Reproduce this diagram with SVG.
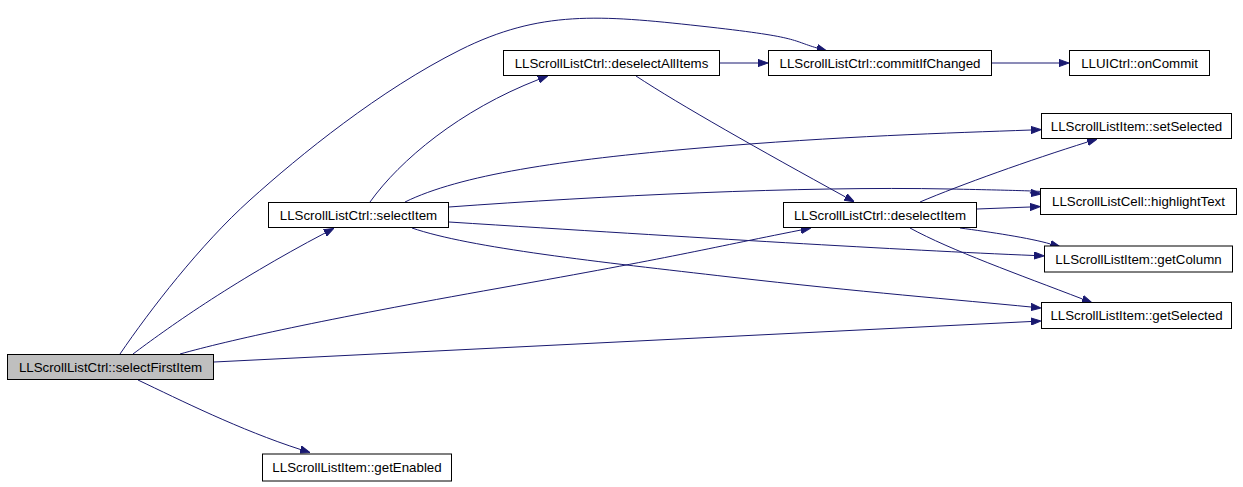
<svg xmlns="http://www.w3.org/2000/svg" width="1243" height="487" viewBox="0 0 1243 487">
<defs>
<style>
.node rect{fill:#ffffff;stroke:#000000;stroke-width:1}
.node.root rect{fill:#bfbfbf}
.node text{font-family:"Liberation Sans",Arial,Helvetica,sans-serif;font-size:13.3px;fill:#000000;text-anchor:middle}
.edge{fill:none;stroke:#191970;stroke-width:1;marker-end:url(#arrow)}
</style>
<marker id="arrow" viewBox="0 -4 10 8" refX="0" refY="0" markerWidth="10" markerHeight="8" markerUnits="userSpaceOnUse" orient="auto">
<path d="M0,-3.6 L10,0 L0,3.6 Z" fill="#191970" stroke="#191970" stroke-width="1"/>
</marker>
</defs>
<rect width="1243" height="487" fill="#ffffff"/>
<g id="edges">
<path class="edge" d="M120,354 C150,310 200,245 250,200 S380,90 460,50 S600,15 700,26 S790,40 817,48"/>
<path class="edge" d="M133,354 C165,330 230,283 325,233"/>
<path class="edge" d="M180,354 C230,340 320,320 500,288 S700,250 801,230"/>
<path class="edge" d="M214,362 L1031,321.5"/>
<path class="edge" d="M138,380 C180,400 240,430 300.5,449.5"/>
<path class="edge" d="M370,202 C400,160 460,110 538.5,79.5"/>
<path class="edge" d="M405,202 C460,175 560,160 700,148 S950,133 1031,130"/>
<path class="edge" d="M449,207 C600,196 800,186 950,189 S1020,192 1031,193"/>
<path class="edge" d="M449,222 C700,238 900,250 1034,255.5"/>
<path class="edge" d="M412,228 C470,248 600,262 730,277 S960,300 1031,307"/>
<path class="edge" d="M720,63 L758,63"/>
<path class="edge" d="M636,76 C680,105 760,150 845.5,197"/>
<path class="edge" d="M992,63 L1059,63"/>
<path class="edge" d="M920,202 C960,185 1030,160 1087.5,142"/>
<path class="edge" d="M977,209 L1030,207"/>
<path class="edge" d="M960,228 C990,232 1030,238 1050.5,244"/>
<path class="edge" d="M910,228 C950,250 1020,275 1082.5,299"/>
</g>
<g id="selectFirstItem" class="node root"><rect x="7.5" y="354.5" width="206" height="25"/><text x="110.5" y="371.5">LLScrollListCtrl::selectFirstItem</text></g>
<g id="selectItem" class="node"><rect x="268.5" y="202.5" width="180" height="25"/><text x="358.5" y="219.5">LLScrollListCtrl::selectItem</text></g>
<g id="deselectAllItems" class="node"><rect x="503.5" y="50.5" width="216" height="25"/><text x="611.5" y="67.5">LLScrollListCtrl::deselectAllItems</text></g>
<g id="commitIfChanged" class="node"><rect x="768.5" y="50.5" width="223" height="25"/><text x="880" y="67.5">LLScrollListCtrl::commitIfChanged</text></g>
<g id="onCommit" class="node"><rect x="1069.5" y="50.5" width="140" height="25"/><text x="1139.5" y="67.5">LLUICtrl::onCommit</text></g>
<g id="deselectItem" class="node"><rect x="783.5" y="202.5" width="193" height="25"/><text x="880" y="219.5">LLScrollListCtrl::deselectItem</text></g>
<g id="setSelected" class="node"><rect x="1041.5" y="113.5" width="190" height="25"/><text x="1136.5" y="130.5">LLScrollListItem::setSelected</text></g>
<g id="highlightText" class="node"><rect x="1040.5" y="188.5" width="196" height="26"/><text x="1138.5" y="206">LLScrollListCell::highlightText</text></g>
<g id="getColumn" class="node"><rect x="1044.5" y="246" width="188" height="26"/><text x="1138.5" y="263.5">LLScrollListItem::getColumn</text></g>
<g id="getSelected" class="node"><rect x="1041.5" y="302.5" width="190" height="26"/><text x="1136.5" y="320">LLScrollListItem::getSelected</text></g>
<g id="getEnabled" class="node"><rect x="262.5" y="454" width="189" height="27"/><text x="357" y="472">LLScrollListItem::getEnabled</text></g>
</svg>
